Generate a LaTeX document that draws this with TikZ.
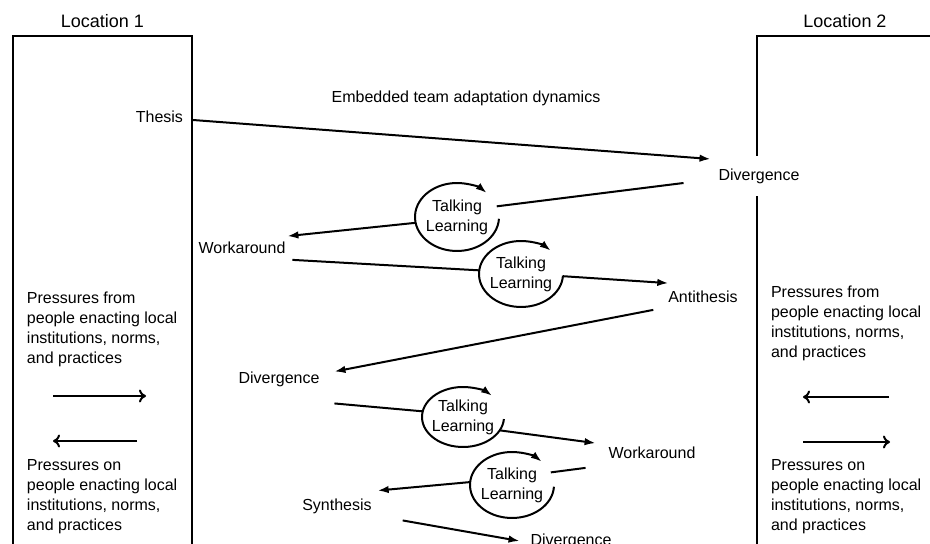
\documentclass[tikz,border=0pt]{standalone}
\usepackage{fontspec}
\setmainfont{Liberation Sans}
\usetikzlibrary{positioning, calc, arrows.meta, shapes.geometric}

\begin{document}
\begin{tikzpicture}[
  x=1pt, y=1pt,
  every node/.style={font=\fontsize{16}{20}\selectfont, inner sep=2pt, outer sep=0pt},
  location/.style={draw, line width=2pt, minimum width=179pt, minimum height=528pt},
  talk/.style={
    ellipse, align=center, inner xsep=-5pt, inner ysep=0pt,
    minimum width=84pt, minimum height=66pt,
  },
  flow/.style={line width=2pt, -{Latex[length=11pt, width=7.5pt]}}, % filled head
  link/.style={line width=2pt}, % no head, runs into a loop
  push/.style={line width=2pt, -{To[length=7pt, width=13pt]}},
  pressure/.style={anchor=north west, align=left},
]
  \useasboundingbox (0,0) rectangle (930,544);

  % the two locations, open at the bottom
  \node[location] (loc1) at (102.5,244) {};
  \node[location, minimum width=176pt] (loc2) at (845,244) {};
  %% labels
  \node[above=6pt of loc1, font=\fontsize{18}{22}\selectfont] (loc1label) {Location 1};
  \node[above=6pt of loc2, font=\fontsize{18}{22}\selectfont] (loc2label) {Location 2};

  % pressures in location 1
  \node[pressure] (from1) at (25,254)
    {Pressures from\\people enacting local\\institutions, norms,\\and practices};
  \node[pressure] (on1) at (25,87)
    {Pressures on\\people enacting local\\institutions, norms,\\and practices};
  \coordinate (push1a) at (53,148);
  \coordinate (push1b) at (146,148);
  \coordinate (push2a) at (137,103);
  \coordinate (push2b) at (53,103);
  \draw[push] (push1a) -- (push1b);
  \draw[push] (push2a) -- (push2b);

  % pressures in location 2
  \node[pressure] (from2) at (769,260)
    {Pressures from\\people enacting local\\institutions, norms,\\and practices};
  \node[pressure] (on2) at (769,87)
    {Pressures on\\people enacting local\\institutions, norms,\\and practices};
  \coordinate (push3a) at (889,147);
  \coordinate (push3b) at (803,147);
  \coordinate (push4a) at (803,102);
  \coordinate (push4b) at (890,102);
  \draw[push] (push3a) -- (push3b);
  \draw[push] (push4a) -- (push4b);

  % adaptation dynamics
  \node (title) at (466,446) {Embedded team adaptation dynamics};
  \node[anchor=east] (thesis) at (185,427) {Thesis};
  \node[fill=white, minimum height=40pt] (div1) at (759,368) {Divergence}; % hides the box edge
  \node (work1) at (242,296) {Workaround};
  \node (anti) at (703,247) {Antithesis};
  \node (div2) at (279,165) {Divergence};
  \node (work2) at (652,91) {Workaround};
  \node (synth) at (337,38) {Synthesis};
  \node (div3) at (571,3) {Divergence};

  %% talking / learning loops
  \node[talk] (c1) at (457,327) {Talking\\Learning};
  \node[talk] (c2) at (521,270) {Talking\\Learning};
  \node[talk, minimum width=82pt, minimum height=60pt] (c3) at (463,127) {Talking\\Learning};
  \node[talk] (c4) at (512,59) {Talking\\Learning};
  \draw[flow] ($(c1.center)+(-3:42pt and 34pt)$)
    arc[start angle=-3, end angle=-315, x radius=42pt, y radius=34pt];
  \draw[flow] ($(c2.center)+(-3:42pt and 33pt)$)
    arc[start angle=-3, end angle=-315, x radius=42pt, y radius=33pt];
  \draw[flow] ($(c3.center)+(-4:41pt and 30pt)$)
    arc[start angle=-4, end angle=-315, x radius=41pt, y radius=30pt];
  \draw[flow] ($(c4.center)+(-3:42pt and 33pt)$)
    arc[start angle=-3, end angle=-315, x radius=42pt, y radius=33pt];

  % connectors
  \draw[flow] ($(thesis.east)+(8,-3)$) -- ($(div1.north west)+(-6,-3)$);
  \draw[link] ($(div1.west)+(-33,-7)$) -- (c1.15);
  \draw[flow] (c1.188) -- ($(work1.north east)+(0,4)$);
  \draw[link] ($(work1.south east)+(5,-4)$) -- (c2.175);
  \draw[flow] (c2.357) -- ($(anti.north west)+(2,6)$);
  \draw[flow] ($(anti.south west)+(-13,-5)$) -- ($(div2.north east)+(13,-2)$);
  \draw[link] ($(div2.south east)+(13,-15)$) -- (c3.172);
  \draw[flow] (c3.340) -- ($(work2.north west)+(-11,2)$);
  \draw[link] ($(work2.south west)+(-21,-7)$) -- (c4.18);
  \draw[flow] (c4.176) -- ($(synth.north east)+(4,6)$);
  \draw[flow] ($(synth.south east)+(29,-5)$) -- ($(div3.west)+(-9,0)$);

\end{tikzpicture}
\end{document}
